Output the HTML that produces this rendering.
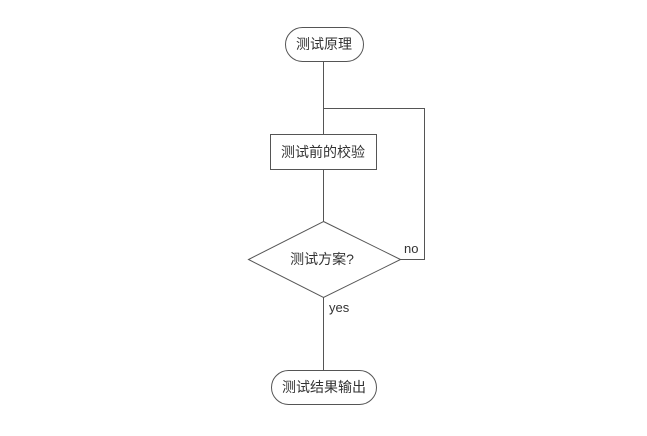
<!DOCTYPE html>
<html><head><meta charset="utf-8"><style>
html,body{margin:0;padding:0;background:#fff;}
svg text{font-family:"Liberation Sans","Noto Sans CJK SC",sans-serif;fill:#333;}
</style></head><body>
<svg width="647" height="431" viewBox="0 0 647 431" xmlns="http://www.w3.org/2000/svg">
<g fill="none" stroke="#555" stroke-width="1">
<rect x="285.5" y="27.5" width="78" height="34" rx="17"/>
<line x1="323.5" y1="61.5" x2="323.5" y2="134.5"/>
<polyline points="323.5,108.5 424.5,108.5 424.5,259.5 400.5,259.5"/>
<rect x="270.5" y="134.5" width="106" height="35"/>
<line x1="323.5" y1="169.5" x2="323.5" y2="221.5"/>
<polygon points="323.5,221.5 400.5,259.5 323.5,297.5 248.5,259.5" fill="#fff"/>
<line x1="323.5" y1="297.5" x2="323.5" y2="370.5"/>
<rect x="271.5" y="370.5" width="105" height="34" rx="17"/>
</g>
<g font-size="14" text-anchor="middle">
<text x="324" y="49">测试原理</text>
<text x="323" y="157">测试前的校验</text>
<text x="322" y="264">测试方案?</text>
<text x="324" y="392">测试结果输出</text>
</g>
<text x="404" y="253" font-size="13">no</text>
<text x="329" y="312" font-size="13">yes</text>
</svg>
</body></html>
